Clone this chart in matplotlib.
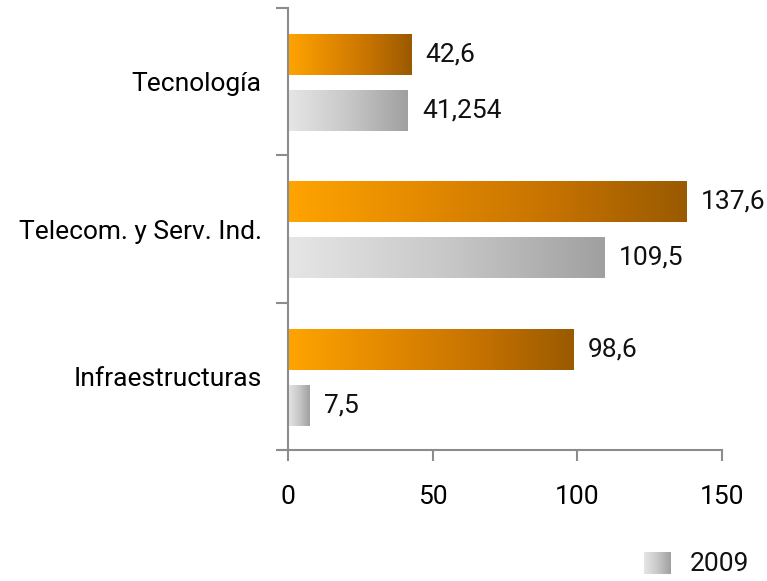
import numpy as np
import matplotlib.pyplot as plt
from matplotlib.colors import LinearSegmentedColormap

categorias = ["Tecnología", "Telecom. y Serv. Ind.", "Infraestructuras"]
valores_2010 = [42.6, 137.6, 98.6]
valores_2009 = [41.254, 109.5, 7.5]
etiq_2010 = ["42,6", "137,6", "98,6"]
etiq_2009 = ["41,254", "109,5", "7,5"]
xticks = [0, 50, 100, 150]

plt.rcParams['font.family'] = ['Roboto', 'DejaVu Sans']
fs = 19

naranja = LinearSegmentedColormap.from_list("nar", ["#ffa400", "#e48a00", "#c57200", "#9a5a00"])
gris = LinearSegmentedColormap.from_list("gris", ["#e6e6e6", "#c8c8c8", "#a0a0a0"])
grad = np.linspace(0, 1, 256).reshape(1, -1)

fig = plt.figure(figsize=(7.67, 5.81), dpi=100)
ax = fig.add_axes([288 / 767, 1 - 450 / 581, (722 - 288) / 767, (450 - 8) / 581])

alto = 0.278
for i in range(len(categorias)):
    for val, txt, cmap, c in [(valores_2010[i], etiq_2010[i], naranja, i + 0.316),
                              (valores_2009[i], etiq_2009[i], gris, i + 0.696)]:
        ax.imshow(grad, cmap=cmap, aspect='auto', interpolation='bicubic',
                  extent=[0, val, c + alto / 2, c - alto / 2], zorder=2)
        ax.text(val + 5, c, txt, va='center', ha='left', fontsize=fs, color='#111111')

ax.set_xlim(0, 150)
ax.set_ylim(3, 0)

for s in ['top', 'right']:
    ax.spines[s].set_visible(False)
ax.spines['left'].set_color('#8c8c8c')
ax.spines['bottom'].set_color('#8c8c8c')
ax.spines['left'].set_linewidth(1.5)
ax.spines['bottom'].set_linewidth(1.5)

ax.set_xticks(xticks)
ax.set_xticklabels([str(t) for t in xticks], fontsize=fs)
ax.tick_params(axis='x', length=8, width=1.5, color='#8c8c8c', pad=17)

ax.set_yticks([0, 1, 2, 3])
ax.set_yticklabels([])
ax.tick_params(axis='y', length=9, width=1.5, color='#8c8c8c')
ax.set_yticks([0.5, 1.5, 2.5], minor=True)
ax.set_yticklabels(categorias, minor=True, fontsize=fs)
ax.tick_params(axis='y', which='minor', length=0, pad=19)
ax.spines['bottom'].set_bounds(-3, 150)
ax.set_xlim(0, 150)

# leyenda
lax = fig.add_axes([644 / 767, 1 - 574 / 581, 27 / 767, 22 / 581])
lax.imshow(grad, cmap=gris, aspect='auto')
lax.axis('off')
fig.text(690 / 767, 1 - 564 / 581, "2009", fontsize=fs, va='center', ha='left', color='#111111')

fig.savefig("out.png", dpi=100)
